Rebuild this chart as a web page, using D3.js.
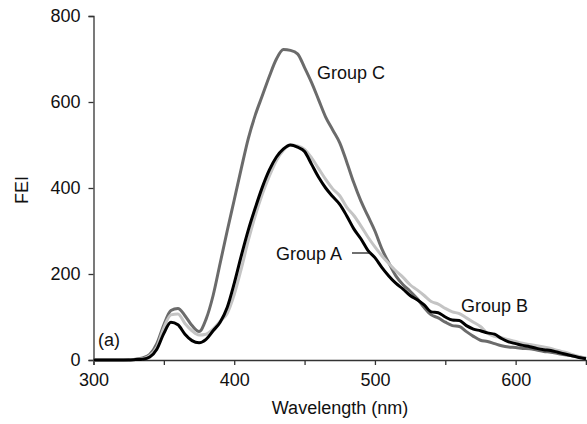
<!DOCTYPE html>
<html>
<head>
<meta charset="utf-8">
<script src="https://cdn.jsdelivr.net/npm/d3@7"></script>
<style>
  html, body { margin: 0; padding: 0; background: #fff; }
  svg { display: block; }
  text { font-family: "Liberation Sans", Arial, sans-serif; fill: #111; }
</style>
</head>
<body>
<svg id="chart" width="587" height="424"></svg>
<script>
// ---- data ----
const wavelengths = [300,305,310,315,320,325,330,335,340,345,350,355,360,365,370,375,380,385,390,395,
  400,405,410,415,420,425,430,435,440,445,450,455,460,465,470,475,480,485,490,495,
  500,505,510,515,520,525,530,535,540,545,550,555,560,565,570,575,580,585,590,595,
  600,605,610,615,620,625,630,635,640,645,650];

const groupA = [0,0,0,0,0,0,1,2,7,25,62,88,82,60,45,40,48,68,88,122,
  178,242,302,354,402,442,472,491,500,495,485,455,425,400,380,362,335,305,282,255,
  238,215,195,178,165,150,140,128,112,110,100,93,92,80,72,68,63,60,50,42,
  38,34,31,27,24,22,18,14,10,6,3];

const groupB = [0,0,0,0,0,0,1,3,10,30,75,105,107,85,68,58,60,72,90,108,
  152,212,278,336,386,428,464,488,500,498,490,470,445,420,398,382,355,336,312,286,
  263,242,224,207,192,175,163,150,136,130,120,112,108,98,88,78,62,55,52,47,
  43,39,36,33,30,27,22,18,13,8,4];

const groupC = [0,0,0,0,0,1,2,5,13,38,82,115,120,103,80,66,95,150,225,300,
  372,445,515,570,615,660,700,722,720,712,680,645,605,565,535,505,460,412,370,335,
  300,258,225,195,175,160,143,122,105,98,88,80,78,66,55,46,43,38,33,30,
  29,27,26,23,20,18,15,12,10,7,4];

const xTicks = [300,350,400,450,500,550,600,650];
const xTickLabels = [300,400,500,600];
const yTicks = [0,200,400,600,800];

// ---- layout ----
const svg = d3.select("#chart");
const x = d3.scaleLinear().domain([300, 650]).range([93.5, 586]);
const y = d3.scaleLinear().domain([0, 800]).range([360, 16]);

const axisColor = "#333";

// y axis
const yAxis = svg.append("g").attr("transform", "translate(93.5,0)")
  .call(d3.axisLeft(y).tickValues(yTicks).tickSize(5).tickPadding(8).tickFormat(d3.format("d")));
yAxis.select(".domain").attr("stroke", axisColor).attr("stroke-width", 1.3);
yAxis.selectAll(".tick line").attr("stroke", axisColor).attr("stroke-width", 1.3);
yAxis.selectAll("text").attr("font-size", 18).attr("fill", "#111")
  .attr("font-family", "'Liberation Sans', Arial, sans-serif");

// x axis
const xAxis = svg.append("g").attr("transform", "translate(0,360)")
  .call(d3.axisBottom(x).tickValues(xTicks).tickSize(5).tickPadding(8)
    .tickFormat(d => xTickLabels.includes(d) ? d : ""));
xAxis.select(".domain").attr("stroke", axisColor).attr("stroke-width", 1.3);
xAxis.selectAll(".tick line").attr("stroke", axisColor).attr("stroke-width", 1.3);
xAxis.selectAll("text").attr("font-size", 18).attr("fill", "#111")
  .attr("font-family", "'Liberation Sans', Arial, sans-serif");

// lines
const line = vals => d3.line()
  .x((d, i) => x(wavelengths[i]))
  .y(d => y(d))
  .curve(d3.curveMonotoneX)(vals);

const series = [
  { name: "C", values: groupC, color: "#6b6b6b", width: 3 },
  { name: "B", values: groupB, color: "#c4c4c4", width: 3 },
  { name: "A", values: groupA, color: "#000000", width: 3 }
];
svg.append("g").selectAll("path").data(series).join("path")
  .attr("d", d => line(d.values))
  .attr("fill", "none")
  .attr("stroke", d => d.color)
  .attr("stroke-width", d => d.width)
  .attr("stroke-linejoin", "round");

// annotations
svg.append("text").attr("x", 317).attr("y", 79).attr("font-size", 18).text("Group C");
svg.append("text").attr("x", 276).attr("y", 260).attr("font-size", 18).text("Group A");
svg.append("line").attr("x1", 352).attr("x2", 371).attr("y1", 253).attr("y2", 253)
  .attr("stroke", "#111").attr("stroke-width", 1.2);
svg.append("text").attr("x", 461).attr("y", 312).attr("font-size", 18).text("Group B");
svg.append("text").attr("x", 98).attr("y", 346).attr("font-size", 18).text("(a)");

// axis titles
svg.append("text").attr("x", 340).attr("y", 414).attr("text-anchor", "middle")
  .attr("font-size", 18).text("Wavelength (nm)");
svg.append("text").attr("transform", "translate(28,190) rotate(-90)")
  .attr("text-anchor", "middle").attr("font-size", 18).text("FEI");
</script>
</body>
</html>
